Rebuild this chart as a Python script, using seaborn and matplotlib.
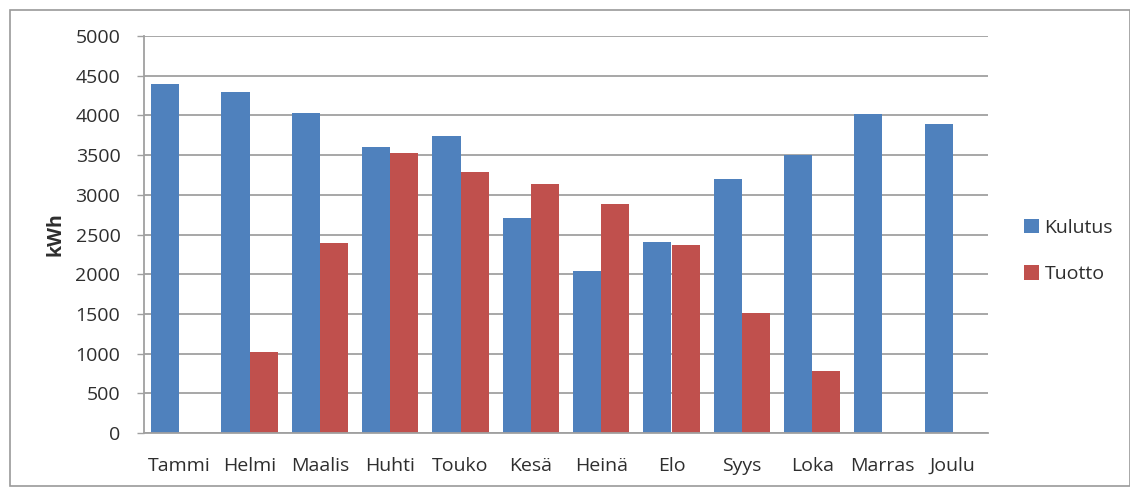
import numpy as np
import pandas as pd
import matplotlib
matplotlib.use("Agg")
import matplotlib.pyplot as plt
from matplotlib.patches import Rectangle
import seaborn as sns

# Monthly energy: consumption (Kulutus) vs. production (Tuotto), kWh
months = ["Tammi", "Helmi", "Maalis", "Huhti", "Touko", "Kesä",
          "Heinä", "Elo", "Syys", "Loka", "Marras", "Joulu"]
kulutus = [4400, 4290, 4030, 3600, 3740, 2710, 2040, 2410, 3200, 3500, 4020, 3890]
tuotto = [0, 1020, 2390, 3530, 3290, 3130, 2880, 2370, 1510, 780, 0, 0]
series_names = ["Kulutus", "Tuotto"]
y_ticks = list(range(0, 5001, 500))

df = pd.DataFrame({
    "Kuukausi": months * 2,
    "kWh": kulutus + tuotto,
    "Sarja": [series_names[0]] * len(months) + [series_names[1]] * len(months),
})

sns.set_style("white")
plt.rcParams["font.family"] = ["Open Sans", "DejaVu Sans"]
text_color = "#2e2e2e"
grid_color = "#a0a0a0"
fs = 14

fig = plt.figure(figsize=(11.3, 4.87), dpi=100)
ax = fig.add_axes([144 / 1130, 1 - 433 / 487, (988 - 144) / 1130, (433 - 36) / 487])

sns.barplot(data=df, x="Kuukausi", y="kWh", hue="Sarja", order=months,
            palette=["#4f81bd", "#c0504d"], saturation=1, width=0.8,
            linewidth=0, ax=ax)

ax.set_ylim(0, 5000)
ax.set_xlim(-0.5, len(months) - 0.5)
ax.set_yticks(y_ticks)
ax.set_yticklabels([str(v) for v in y_ticks])
ax.yaxis.grid(True, color=grid_color, linewidth=1.3)
ax.set_axisbelow(True)

# category boundary ticks below the x axis
ax.set_xticks(np.arange(-0.5, len(months), 1), minor=True)
ax.tick_params(axis="x", which="minor", length=4, width=1, color=grid_color, direction="out")
ax.tick_params(axis="x", which="major", length=0, pad=17, labelsize=fs, labelcolor=text_color)
ax.tick_params(axis="y", which="major", length=5, width=1, color=grid_color,
               direction="out", pad=12, labelsize=fs, labelcolor=text_color, left=True)

for side in ["top", "right"]:
    ax.spines[side].set_visible(False)
for side in ["left", "bottom"]:
    ax.spines[side].set_color(grid_color)
    ax.spines[side].set_linewidth(1.3)

ax.set_xlabel("")
ax.set_ylabel("kWh", fontsize=fs, fontweight="bold", color=text_color, labelpad=7)

leg = ax.legend(loc="center left", bbox_to_anchor=(1.022, 0.458), frameon=False,
                fontsize=fs, handlelength=0.75, handleheight=0.75,
                handletextpad=0.3, labelspacing=1.45)
for t in leg.get_texts():
    t.set_color(text_color)

# outer chart frame
fig.patches.append(Rectangle((10 / 1130, 1 / 487), 1 - 10 / 1130, 1 - 11 / 487,
                             transform=fig.transFigure, fill=False,
                             edgecolor="#9a9a9a", linewidth=1.2))

fig.savefig("out.png", dpi=100)
